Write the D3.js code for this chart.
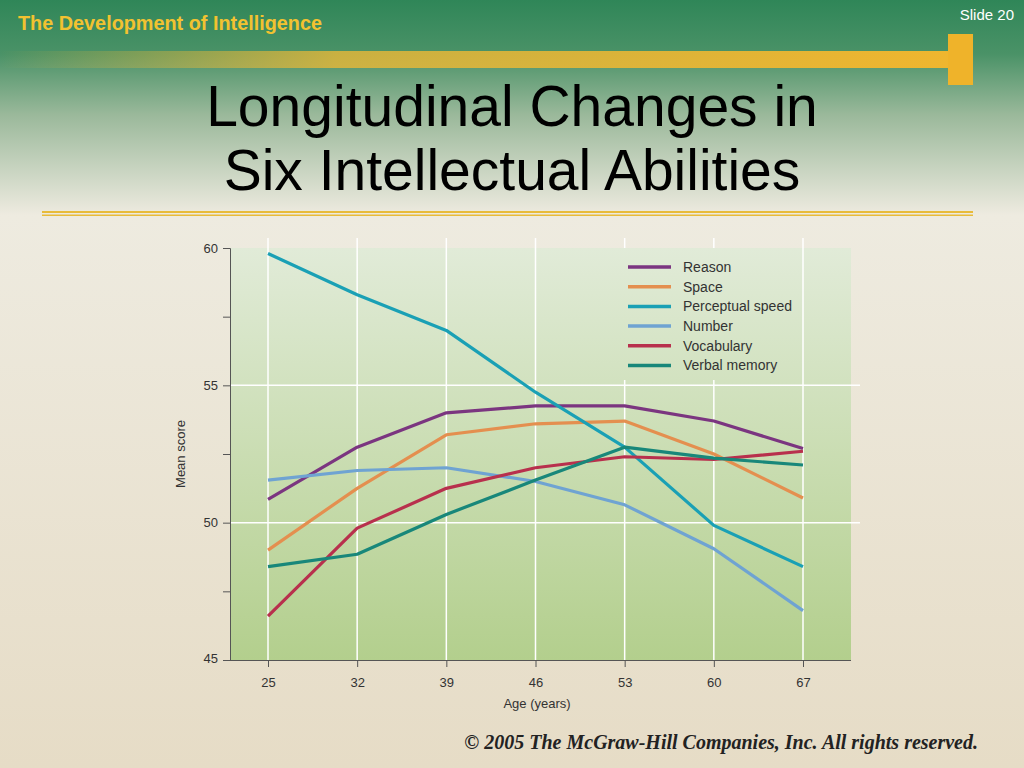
<!DOCTYPE html>
<html><head><meta charset="utf-8">
<script src="https://cdn.jsdelivr.net/npm/d3@7"></script>
<style>body{margin:0;}svg{display:block;}</style>
</head><body>
<svg id="c" width="1024" height="768"></svg>
<script>
const ages = [25, 32, 39, 46, 53, 60, 67];
const seriesNames = ["Reason","Space","Perceptual speed","Number","Vocabulary","Verbal memory"];
const seriesColors = ["#7b3580","#e48f4f","#1aa0b5","#6fa3d2","#b8304d","#18877a"];
const reason = [50.85, 52.75, 54.0, 54.25, 54.25, 53.7, 52.7];
const space = [49.0, 51.25, 53.2, 53.6, 53.7, 52.5, 50.9];
const perceptual = [59.8, 58.3, 57.0, 54.75, 52.75, 49.9, 48.4];
const number = [51.55, 51.9, 52.0, 51.5, 50.65, 49.05, 46.8];
const vocabulary = [46.6, 49.8, 51.25, 52.0, 52.4, 52.3, 52.6];
const verbalMemory = [48.4, 48.85, 50.3, 51.55, 52.75, 52.35, 52.1];
const allSeries = [reason, space, perceptual, number, vocabulary, verbalMemory];
const yTicks = [45, 50, 55, 60];

const svg = d3.select("#c");
const defs = svg.append("defs");
const bg = defs.append("linearGradient").attr("id","bg").attr("x1",0).attr("y1",0).attr("x2",0).attr("y2",1);
bg.append("stop").attr("offset","0").attr("stop-color","#2f8658");
bg.append("stop").attr("offset","0.07").attr("stop-color","#4a9267");
bg.append("stop").attr("offset","0.15").attr("stop-color","#9bb99b");
bg.append("stop").attr("offset","0.28").attr("stop-color","#eeebe0");
bg.append("stop").attr("offset","1").attr("stop-color","#e6dcc6");
svg.append("rect").attr("width",1024).attr("height",768).attr("fill","url(#bg)");
const bar = defs.append("linearGradient").attr("id","bar");
bar.append("stop").attr("offset","0").attr("stop-color","#e9b838").attr("stop-opacity",0);
bar.append("stop").attr("offset","0.35").attr("stop-color","#e9b838").attr("stop-opacity",0.8);
bar.append("stop").attr("offset","1").attr("stop-color","#f0b62e");
svg.append("rect").attr("x",0).attr("y",51).attr("width",960).attr("height",17).attr("fill","url(#bar)");
svg.append("rect").attr("x",948).attr("y",34).attr("width",25).attr("height",51).attr("fill","#efb32a");
svg.append("text").attr("x",18).attr("y",30).attr("fill","#f2c230").attr("font-family","Liberation Sans, Arial").attr("font-weight","bold").attr("font-size",19.5).attr("textLength",304).attr("lengthAdjust","spacingAndGlyphs").text("The Development of Intelligence");
svg.append("text").attr("x",1014).attr("y",20).attr("text-anchor","end").attr("fill","#fff").attr("font-family","Liberation Sans, Arial").attr("font-size",15).text("Slide 20");
const tt = svg.append("text").attr("text-anchor","middle").attr("font-family","Liberation Sans, Arial").attr("font-size",57).attr("fill","#000");
tt.append("tspan").attr("x",512).attr("y",126).text("Longitudinal Changes in");
tt.append("tspan").attr("x",512).attr("y",190).text("Six Intellectual Abilities");
svg.append("rect").attr("x",42).attr("y",211).attr("width",931).attr("height",2).attr("fill","#e8bb3a");
svg.append("rect").attr("x",42).attr("y",214.5).attr("width",931).attr("height",1.5).attr("fill","#e8bb3a");
svg.append("text").attr("x",978).attr("y",749).attr("text-anchor","end").attr("font-family","Liberation Serif, Times New Roman").attr("font-style","italic").attr("font-weight","bold").attr("font-size",20).attr("fill","#222").text("© 2005 The McGraw-Hill Companies, Inc. All rights reserved.");

const L=230,R=851,T=248,B=660;
const pg = defs.append("linearGradient").attr("id","pg").attr("x1",0).attr("y1",0).attr("x2",0).attr("y2",1);
pg.append("stop").attr("offset","0").attr("stop-color","#e1ebd8");
pg.append("stop").attr("offset","1").attr("stop-color","#b3cf8d");
svg.append("rect").attr("x",L).attr("y",T).attr("width",R-L).attr("height",B-T).attr("fill","url(#pg)");
const x = d3.scaleLinear().domain([25,67]).range([268,803]);
const y = d3.scaleLinear().domain([45,60]).range([B,T]);
// grid (legend area hides upper part of 53 and 60 lines)
svg.append("g").selectAll("line").data(ages).join("line")
  .attr("x1",d=>x(d)).attr("x2",d=>x(d)).attr("y1",d=>(d===53||d===60)?380:238).attr("y2",B).attr("stroke","#fff").attr("stroke-width",1.5);
svg.append("g").selectAll("line").data([53,60]).join("line")
  .attr("x1",d=>x(d)).attr("x2",d=>x(d)).attr("y1",238).attr("y2",248).attr("stroke","#fff").attr("stroke-width",1.5);
svg.append("g").selectAll("line").data([50,55]).join("line")
  .attr("x1",L).attr("x2",860).attr("y1",d=>y(d)).attr("y2",d=>y(d)).attr("stroke","#fff").attr("stroke-width",1.5);
const ya = svg.append("g").attr("transform",`translate(${L},0)`)
  .call(d3.axisLeft(y).tickValues([45,47.5,50,52.5,55,57.5,60]).tickSize(7).tickFormat(d=>yTicks.includes(d)?d:""));
ya.select(".domain").attr("stroke","#555");
ya.selectAll("line").attr("stroke","#555");
ya.selectAll("text").attr("font-family","Liberation Sans Narrow, Liberation Sans, Arial").attr("font-size",13).attr("fill","#333").attr("x",-12).attr("dy","0.32em");
ya.selectAll(".tick").filter(d=>yTicks.includes(d)).select("text").attr("dy",d=>d==45?"0.2em":"0.32em");
const xa = svg.append("g").attr("transform",`translate(0,${B})`).call(d3.axisBottom(x).tickValues(ages).tickSize(7).tickSizeOuter(0));
xa.select(".domain").attr("d",`M${L},0.5H${R}`).attr("stroke","#555");
xa.selectAll("line").attr("stroke","#555");
xa.selectAll("text").attr("font-family","Liberation Sans Narrow, Liberation Sans, Arial").attr("font-size",13).attr("fill","#333").attr("dy","1.3em");
svg.append("text").attr("x",537).attr("y",708).attr("text-anchor","middle").attr("font-family","Liberation Sans, Arial").attr("font-size",13).attr("fill","#333").text("Age (years)");
svg.append("text").attr("transform","translate(185,454) rotate(-90)").attr("text-anchor","middle").attr("font-family","Liberation Sans, Arial").attr("font-size",13).attr("fill","#333").text("Mean score");
const line = d3.line().x((d,i)=>x(ages[i])).y(d=>y(d));
allSeries.forEach((s,k)=>{
  svg.append("path").attr("d",line(s)).attr("fill","none").attr("stroke",seriesColors[k]).attr("stroke-width",3.2).attr("stroke-linejoin","round");
});
const lg = svg.append("g").selectAll("g").data(seriesNames).join("g").attr("transform",(d,i)=>`translate(628,${267+i*19.7})`);
lg.append("line").attr("x1",0).attr("x2",43).attr("stroke",(d,i)=>seriesColors[i]).attr("stroke-width",3.5);
lg.append("text").attr("x",55).attr("dy","0.35em").attr("font-family","Liberation Sans, Arial").attr("font-size",14).attr("fill","#333").text(d=>d);
</script>
</body></html>
